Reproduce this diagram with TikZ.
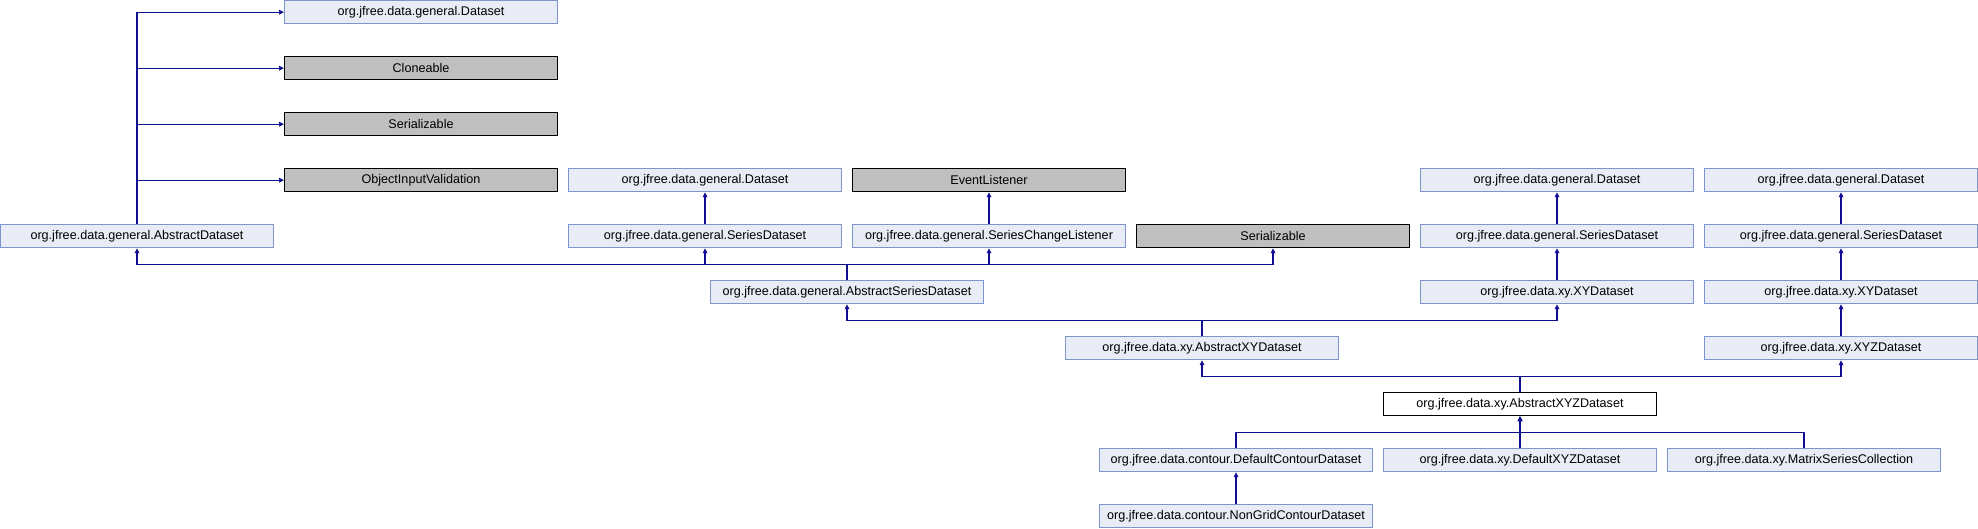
\documentclass[tikz,border=0pt]{standalone}
\usepackage{fontspec}
\setmainfont{Liberation Sans}
\usetikzlibrary{arrows.meta}
\definecolor{cfill}{HTML}{E8ECF6}
\definecolor{cborder}{HTML}{7C95CA}
\definecolor{gfill}{HTML}{BFBFBF}
\definecolor{edgec}{HTML}{0F0F8F}
\tikzset{
  x=1pt, y=-1pt,
  cls/.style={draw=cborder, fill=cfill, line width=1pt, minimum width=273pt, minimum height=23pt, inner sep=0pt, font=\fontsize{12.6}{14}\selectfont},
  ext/.style={cls, draw=black, fill=gfill},
  cur/.style={cls, draw=black, fill=white},
  edge/.style={draw=edgec, line width=1.2pt, -{Triangle[length=5pt,width=4.6pt]}},
}
\begin{document}
\begin{tikzpicture}
\useasboundingbox (0,0) rectangle (1978,528);
% row centers: 12.2 + 56k
\node[cls] (d0) at (421,12.2) {org.jfree.data.general.Dataset};
\node[ext] (clone) at (421,68.2) {Cloneable};
\node[ext] (ser1) at (421,124.2) {Serializable};
\node[ext] (oiv) at (421,180.2) {ObjectInputValidation};
\node[cls] (ad) at (137,236.2) {org.jfree.data.general.AbstractDataset};

\node[cls] (d2) at (705,180.2) {org.jfree.data.general.Dataset};
\node[ext] (el) at (989,180.2) {EventListener};
\node[cls] (sd2) at (705,236.2) {org.jfree.data.general.SeriesDataset};
\node[cls] (scl) at (989,236.2) {org.jfree.data.general.SeriesChangeListener};
\node[ext] (ser2) at (1273,236.2) {Serializable};
\node[cls] (asd) at (847,292.2) {org.jfree.data.general.AbstractSeriesDataset};

\node[cls] (da) at (1557,180.2) {org.jfree.data.general.Dataset};
\node[cls] (sda) at (1557,236.2) {org.jfree.data.general.SeriesDataset};
\node[cls] (xya) at (1557,292.2) {org.jfree.data.xy.XYDataset};

\node[cls] (db) at (1841,180.2) {org.jfree.data.general.Dataset};
\node[cls] (sdb) at (1841,236.2) {org.jfree.data.general.SeriesDataset};
\node[cls] (xyb) at (1841,292.2) {org.jfree.data.xy.XYDataset};
\node[cls] (xyzb) at (1841,348.2) {org.jfree.data.xy.XYZDataset};

\node[cls] (axy) at (1202,348.2) {org.jfree.data.xy.AbstractXYDataset};
\node[cur] (axyz) at (1520,404.2) {org.jfree.data.xy.AbstractXYZDataset};
\node[cls] (dc) at (1236,460.2) {org.jfree.data.contour.DefaultContourDataset};
\node[cls] (dxyz) at (1520,460.2) {org.jfree.data.xy.DefaultXYZDataset};
\node[cls] (msc) at (1804,460.2) {org.jfree.data.xy.MatrixSeriesCollection};
\node[cls] (ng) at (1236,516.2) {org.jfree.data.contour.NonGridContourDataset};

% AbstractDataset parents
\draw[edge] (ad.north) |- (d0.west);
\draw[edge] (ad.north) |- (clone.west);
\draw[edge] (ad.north) |- (ser1.west);
\draw[edge] (ad.north) |- (oiv.west);

% simple vertical inheritance
\draw[edge] (sd2) -- (d2);
\draw[edge] (scl) -- (el);
\draw[edge] (sda) -- (da);
\draw[edge] (xya) -- (sda);
\draw[edge] (sdb) -- (db);
\draw[edge] (xyb) -- (sdb);
\draw[edge] (xyzb) -- (xyb);
\draw[edge] (ng) -- (dc);
\draw[edge] (dxyz) -- (axyz);

% AbstractSeriesDataset parents
\coordinate (b1) at (847,264.3);
\draw[edge] (asd.north) -- (b1) -| (ad.south);
\draw[edge] (asd.north) -- (b1) -| (sd2.south);
\draw[edge] (asd.north) -- (b1) -| (scl.south);
\draw[edge] (asd.north) -- (b1) -| (ser2.south);

% AbstractXYDataset parents
\coordinate (b2) at (1202,320.3);
\draw[edge] (axy.north) -- (b2) -| (asd.south);
\draw[edge] (axy.north) -- (b2) -| (xya.south);

% AbstractXYZDataset parents
\coordinate (b3) at (1520,376.7);
\draw[edge] (axyz.north) -- (b3) -| (axy.south);
\draw[edge] (axyz.north) -- (b3) -| (xyzb.south);

% AbstractXYZDataset children
\coordinate (b4) at (1520,432.7);
\draw[edge] (dc.north) |- (b4) -- (axyz.south);
\draw[edge] (msc.north) |- (b4) -- (axyz.south);
\end{tikzpicture}
\end{document}
